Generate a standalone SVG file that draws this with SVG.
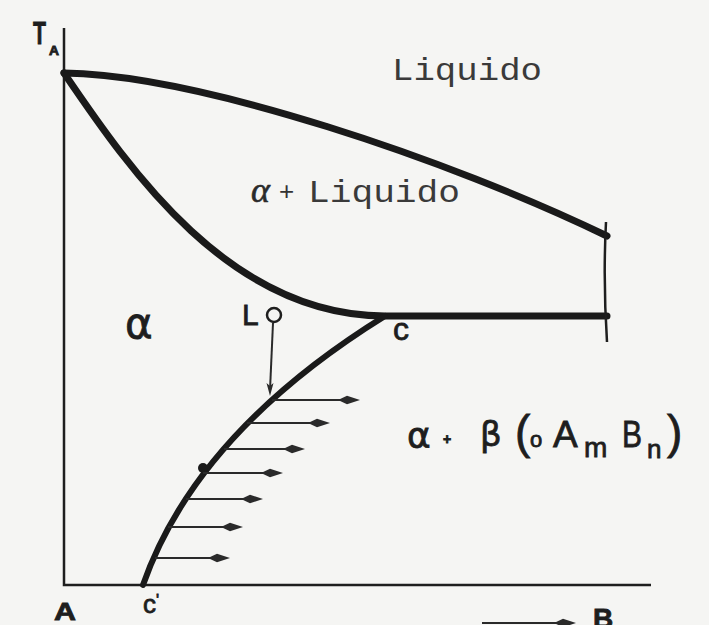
<svg xmlns="http://www.w3.org/2000/svg" width="709" height="625" viewBox="0 0 709 625">
<style>
.thick{fill:none;stroke:#1a1a1a;stroke-width:7;stroke-linecap:round;stroke-linejoin:round}
.axis{fill:none;stroke:#1e1e1e;stroke-width:2.5}
.arr{fill:none;stroke:#2a2a2a;stroke-width:2}
.head{fill:#2a2a2a}
.type{font-family:"Liberation Mono","Courier New",monospace;fill:#3a3a3a}
.pen{font-family:"Liberation Sans",Arial,sans-serif;fill:#1e1e1e;stroke:#1e1e1e;stroke-width:0.8}
.greek{font-family:"DejaVu Sans",sans-serif;fill:#1e1e1e;stroke:#1e1e1e;stroke-width:0.8}
</style>
<defs>
<path id="ah" d="M-22,0 L-13,-4.2 L0,0 L-13,4.2 Z"/>
</defs>
<rect width="709" height="625" fill="#f5f5f3"/>

<g id="axes">
<path class="axis" d="M64,28 L64,585 L651,585"/>
</g>

<g id="curves">
<path id="liquidus" class="thick" d="M64,73 C200,75 450,160 607,236"/>
<path id="solidus" class="thick" d="M64,73 C130,170 230,316 385,316 L607,316"/>
<path id="solvus" class="thick" style="stroke-width:6" d="M385,316 C285,378 185,465 143,585"/>
<path id="right-edge" class="axis" d="M606,222 Q603,280 607,342"/>
<circle id="point" cx="203" cy="468" r="5" fill="#1a1a1a"/>
</g>

<g id="connectors">
<path class="arr" d="M273,323 L270,390"/>
<path class="head" d="M270,396 L266.5,383 L270,386 L273.5,383 Z"/>
<path class="arr" d="M272,400 L345,400"/><use href="#ah" class="head" x="360" y="400"/>
<path class="arr" d="M247,423 L315,423"/><use href="#ah" class="head" x="330" y="423"/>
<path class="arr" d="M224,449 L290,449"/><use href="#ah" class="head" x="305" y="449"/>
<path class="arr" d="M203,473 L268,473"/><use href="#ah" class="head" x="283" y="473"/>
<path class="arr" d="M186,499 L248,499"/><use href="#ah" class="head" x="263" y="499"/>
<path class="arr" d="M168,527 L228,527"/><use href="#ah" class="head" x="243" y="527"/>
<path class="arr" d="M155,558 L215,558"/><use href="#ah" class="head" x="230" y="558"/>
<path class="arr" d="M482,623 L560,623"/><use href="#ah" class="head" x="576" y="623"/>
</g>

<g id="L-point">
<circle cx="274" cy="315" r="7" fill="#f5f5f3" stroke="#1e1e1e" stroke-width="2.5"/>
<text class="pen" x="242" y="325" font-size="30">L</text>
</g>

<g id="labels">
<text class="pen" x="33" y="44" font-size="32" font-weight="bold" textLength="13" lengthAdjust="spacingAndGlyphs">T</text>
<text class="pen" x="49" y="55" font-size="12" font-weight="bold" textLength="10" lengthAdjust="spacingAndGlyphs">A</text>
<text class="type" x="392" y="80" font-size="32" textLength="150" lengthAdjust="spacingAndGlyphs">Liquido</text>
<text x="251" y="202" font-size="36" font-style="italic" font-family="Liberation Serif,serif" fill="#2a2a2a" stroke="#2a2a2a" stroke-width="0.6">α</text>
<text x="279" y="200" font-size="26" font-family="Liberation Sans,sans-serif" fill="#333">+</text>
<text class="type" x="308" y="202" font-size="31" textLength="152" lengthAdjust="spacingAndGlyphs">Liquido</text>
<text class="greek" x="125" y="338" font-size="42">α</text>
<text class="pen" x="393" y="340" font-size="32">c</text>
<text class="pen" x="54" y="620" font-size="24" font-weight="bold" textLength="22" lengthAdjust="spacingAndGlyphs">A</text>
<text class="pen" x="143" y="613" font-size="26">c</text>
<text class="pen" x="156" y="606" font-size="16">'</text>
<text class="pen" x="593" y="628" font-size="28" font-weight="bold">B</text>
</g>

<g id="alpha-beta">
<text class="greek" x="407" y="448" font-size="36">α</text>
<text class="pen" x="443" y="444" font-size="14" font-weight="bold">+</text>
<text class="greek" x="480" y="446" font-size="34" stroke-width="1.2">β</text>
<text class="pen" x="515" y="448" font-size="46">(</text>
<text class="pen" x="530" y="447" font-size="22">o</text>
<text class="pen" x="553" y="447" font-size="37">A</text>
<text class="pen" x="584" y="457" font-size="28">m</text>
<text class="pen" x="622" y="447" font-size="37" textLength="20" lengthAdjust="spacingAndGlyphs">B</text>
<text class="pen" x="647" y="458" font-size="26">n</text>
<text class="pen" x="667" y="448" font-size="46">)</text>
</g>
</svg>
